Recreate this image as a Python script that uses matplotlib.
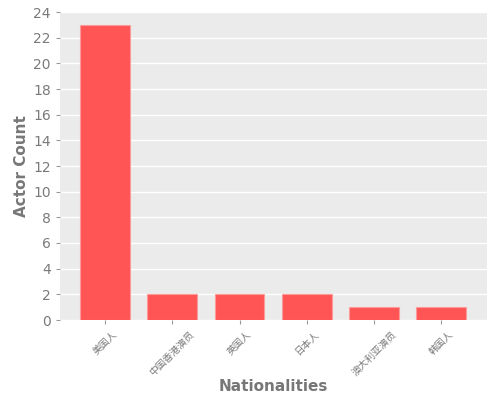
import matplotlib
matplotlib.use("Agg")
import matplotlib.pyplot as plt

# Dati: nazionalità e numero di attori
nationalities = ["美国人", "中国香港演员", "英国人", "日本人", "澳大利亚演员", "韩国人"]
actor_counts = [23, 2, 2, 2, 1, 1]

plt.rcParams['font.family'] = ['DejaVu Sans', 'Noto Sans CJK SC']

fig, ax = plt.subplots(figsize=(5, 4), dpi=100)
fig.subplots_adjust(left=0.12, right=0.974, top=0.97, bottom=0.2)

ax.set_facecolor("#EBEBEB")
ax.bar(nationalities, actor_counts, width=0.74, color="#FF5555",
       edgecolor="#FF9A9A", linewidth=0.8, zorder=3)

ax.set_ylim(0, 24)
ax.set_yticks(range(0, 25, 2))
ax.set_xlim(-0.67, 5.68)
ax.grid(axis="y", color="white", linewidth=1, zorder=0)
for s in ax.spines.values():
    s.set_visible(False)

ax.tick_params(colors="#999999", labelcolor="#7a7a7a", labelsize=10, length=3)
plt.setp(ax.get_xticklabels(), rotation=45, fontsize=7,
         family=['Noto Sans CJK SC', 'DejaVu Sans'])

ax.set_xlabel("Nationalities", fontsize=11, fontweight="bold", color="#777777")
ax.set_ylabel("Actor Count", fontsize=11, fontweight="bold", color="#777777")
ax.xaxis.set_label_coords(0.5, -0.19)
ax.yaxis.set_label_coords(-0.073, 0.5)

fig.savefig("out.png", dpi=100)
